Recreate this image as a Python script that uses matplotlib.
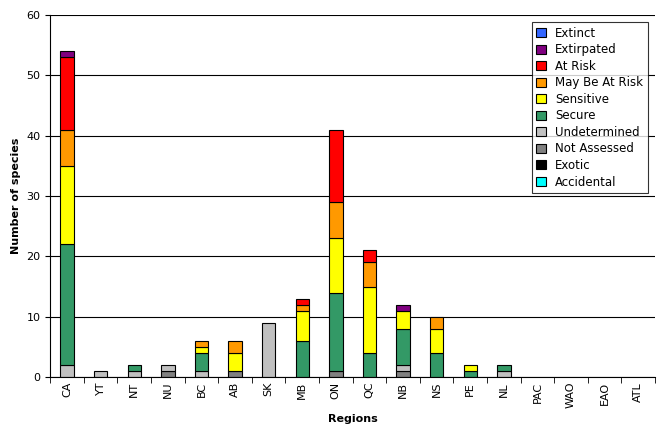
import matplotlib
matplotlib.use("Agg")
import matplotlib.pyplot as plt
import numpy as np

regions = ["CA","YT","NT","NU","BC","AB","SK","MB","ON","QC","NB","NS","PE","NL","PAC","WAO","EAO","ATL"]
accidental   = [0]*18
exotic       = [0]*18
not_assessed = [0,0,0,1,0,1,0,0,1,0,1,0,0,0,0,0,0,0]
undetermined = [2,1,1,1,1,0,9,0,0,0,1,0,0,1,0,0,0,0]
secure       = [20,0,1,0,3,0,0,6,13,4,6,4,1,1,0,0,0,0]
sensitive    = [13,0,0,0,1,3,0,5,9,11,3,4,1,0,0,0,0,0]
may_be       = [6,0,0,0,1,2,0,1,6,4,0,2,0,0,0,0,0,0]
at_risk      = [12,0,0,0,0,0,0,1,12,2,0,0,0,0,0,0,0,0]
extirpated   = [1,0,0,0,0,0,0,0,0,0,1,0,0,0,0,0,0,0]
extinct      = [0]*18

series = [("Accidental",accidental,"#00FFFF"),("Exotic",exotic,"#000000"),
          ("Not Assessed",not_assessed,"#808080"),("Undetermined",undetermined,"#C0C0C0"),
          ("Secure",secure,"#339966"),("Sensitive",sensitive,"#FFFF00"),
          ("May Be At Risk",may_be,"#FF9900"),("At Risk",at_risk,"#FF0000"),
          ("Extirpated",extirpated,"#800080"),("Extinct",extinct,"#3366FF")]

fig = plt.figure(figsize=(6.61,4.38), dpi=100)
ax = fig.add_axes([0.076,0.139,0.915,0.827])
x = np.arange(len(regions))
bottom = np.zeros(len(regions))
handles = []
for name, vals, col in series:
    v = np.array(vals, float)
    lw = [0.8 if val > 0 else 0 for val in v]
    b = ax.bar(x, v, 0.4, bottom=bottom, color=col, edgecolor="black", linewidth=lw, label=name)
    handles.append(plt.Rectangle((0,0),1,1, facecolor=col, edgecolor="black", linewidth=0.8))
    bottom += v
ax.set_xlim(-0.5, len(regions)-0.5)
ax.set_ylim(0,60)
ax.set_yticks(range(0,61,10))
ax.yaxis.grid(True, color="black", linewidth=0.8)
ax.set_axisbelow(True)
ax.set_xticks(x)
ax.set_xticklabels(regions, rotation=90, fontsize=8)
ax.tick_params(axis="x", length=0)
ax.set_xticks(np.arange(-0.5, len(regions), 1), minor=True)
ax.tick_params(axis="x", which="minor", length=4)
ax.tick_params(axis="y", labelsize=8)
for s in ["top","right"]:
    ax.spines[s].set_visible(False)
ax.set_xlabel("Regions", fontsize=8, fontweight="bold")
ax.set_ylabel("Number of species", fontsize=8, fontweight="bold")
leg = ax.legend(handles[::-1], [s[0] for s in series][::-1], loc="upper right", fontsize=8.5,
                frameon=True, fancybox=False, edgecolor="black", handlelength=0.8, handleheight=0.8,
                borderaxespad=0.6, labelspacing=0.3)
leg.get_frame().set_linewidth(0.8)
fig.savefig("out.png", dpi=100)
